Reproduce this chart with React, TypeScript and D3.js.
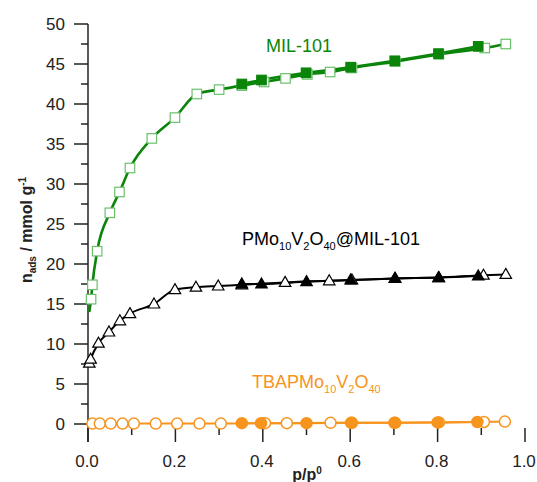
import React from "react";
import * as d3 from "d3";

const W = 537;
const H = 482;

const milAdsX = [0.003, 0.007, 0.010, 0.021, 0.050, 0.072, 0.096, 0.146, 0.199, 0.249, 0.300, 0.352, 0.403, 0.452, 0.502, 0.554, 0.604, 0.703, 0.803, 0.908, 0.956];
const milAdsY = [14.0, 15.6, 17.4, 21.6, 26.4, 29.0, 32.0, 35.7, 38.3, 41.25, 41.8, 42.3, 42.75, 43.2, 43.7, 44.0, 44.5, 45.3, 46.2, 47.0, 47.5];
const milDesX = [0.352, 0.397, 0.499, 0.601, 0.702, 0.802, 0.893];
const milDesY = [42.5, 43.0, 43.9, 44.6, 45.4, 46.3, 47.2];

const pmoAdsX = [0.003, 0.006, 0.024, 0.048, 0.073, 0.096, 0.151, 0.199, 0.247, 0.298, 0.352, 0.451, 0.552, 0.604, 0.703, 0.803, 0.905, 0.956];
const pmoAdsY = [7.6, 8.1, 10.1, 11.5, 12.9, 13.8, 15.0, 16.8, 17.1, 17.25, 17.4, 17.7, 17.9, 18.0, 18.2, 18.3, 18.6, 18.7];
const pmoDesX = [0.352, 0.397, 0.500, 0.601, 0.702, 0.802, 0.893];
const pmoDesY = [17.5, 17.5, 17.8, 18.0, 18.2, 18.3, 18.5];

const tbaAdsX = [0.010, 0.027, 0.052, 0.079, 0.105, 0.155, 0.204, 0.255, 0.304, 0.405, 0.455, 0.555, 0.604, 0.703, 0.803, 0.906, 0.954];
const tbaAdsY = [0.05, 0.05, 0.05, 0.05, 0.05, 0.05, 0.05, 0.05, 0.05, 0.1, 0.1, 0.15, 0.15, 0.15, 0.2, 0.25, 0.3];
const tbaDesX = [0.352, 0.396, 0.500, 0.602, 0.701, 0.800, 0.891];
const tbaDesY = [0.1, 0.1, 0.1, 0.15, 0.15, 0.2, 0.25];

const xTicks = [0, 0.2, 0.4, 0.6, 0.8, 1.0];
const xMinor = [0.1, 0.3, 0.5, 0.7, 0.9];
const yTicks = [0, 5, 10, 15, 20, 25, 30, 35, 40, 45, 50];
const yMinor = [2.5, 7.5, 12.5, 17.5, 22.5, 27.5, 32.5, 37.5, 42.5, 47.5];

const GREEN = "#0a850a";
const GREEN_LIGHT = "#6cc06c";
const ORANGE = "#f7941d";

const x = d3.scaleLinear().domain([0, 1]).range([88, 525]);
const y = d3.scaleLinear().domain([0, 50]).range([424, 24]);

const zip = (xs: number[], ys: number[]) => xs.map((v, i) => [v, ys[i]] as [number, number]);

const line = d3
  .line<[number, number]>()
  .x((d) => x(d[0]))
  .y((d) => y(d[1]))
  .curve(d3.curveMonotoneX);

const FONT = "Arial, 'Liberation Sans', sans-serif";

function Square({ cx, cy, filled }: { cx: number; cy: number; filled: boolean }) {
  const s = 9.5;
  return (
    <rect
      x={cx - s / 2}
      y={cy - s / 2}
      width={s}
      height={s}
      fill={filled ? GREEN : "#fff"}
      stroke={filled ? GREEN : GREEN_LIGHT}
      strokeWidth={1.2}
    />
  );
}

function Tri({ cx, cy, filled }: { cx: number; cy: number; filled: boolean }) {
  const w = 11.5;
  const h = 10;
  const p = `${cx},${cy - h * 0.6} ${cx + w / 2},${cy + h * 0.4} ${cx - w / 2},${cy + h * 0.4}`;
  return <polygon points={p} fill={filled ? "#000" : "#fff"} stroke="#000" strokeWidth={1.2} />;
}

function Circ({ cx, cy, filled }: { cx: number; cy: number; filled: boolean }) {
  return <circle cx={cx} cy={cy} r={5.5} fill={filled ? ORANGE : "#fff"} stroke={ORANGE} strokeWidth={1.5} />;
}

export default function App() {
  const milAds = zip(milAdsX, milAdsY);
  const milDes = zip(milDesX, milDesY);
  const pmoAds = zip(pmoAdsX, pmoAdsY);
  const pmoDes = zip(pmoDesX, pmoDesY);
  const tbaAds = zip(tbaAdsX, tbaAdsY);
  const tbaDes = zip(tbaDesX, tbaDesY);

  return (
    <svg
      width={W}
      height={H}
      style={{ position: "absolute", left: 0, top: 0, background: "#fff" }}
      fontFamily={FONT}
    >
      {/* y axis */}
      <line x1={88} x2={88} y1={y(50)} y2={442} stroke="#222" strokeWidth={1.5} />
      {yTicks.map((t) => (
        <g key={"yt" + t}>
          <line x1={74} x2={88} y1={y(t)} y2={y(t)} stroke="#222" strokeWidth={1.5} />
          <text x={65} y={y(t)} dy="0.36em" textAnchor="end" fontSize={17} fill="#222">
            {t}
          </text>
        </g>
      ))}
      {yMinor.map((t) => (
        <line key={"ym" + t} x1={81} x2={88} y1={y(t)} y2={y(t)} stroke="#222" strokeWidth={1.5} />
      ))}
      {/* x axis ticks */}
      {xTicks.map((t) => (
        <g key={"xt" + t}>
          <line x1={x(t)} x2={x(t)} y1={428} y2={442} stroke="#222" strokeWidth={1.5} />
          <text x={x(t) - 1} y={467} textAnchor="middle" fontSize={17} fill="#222">
            {t.toFixed(1)}
          </text>
        </g>
      ))}
      {xMinor.map((t) => (
        <line key={"xm" + t} x1={x(t)} x2={x(t)} y1={428} y2={435} stroke="#222" strokeWidth={1.5} />
      ))}

      {/* axis titles */}
      <text x={307} y={480} textAnchor="middle" fontSize={16} fontWeight="bold" fill="#222">
        p/p
        <tspan dy={-6} fontSize={10}>
          0
        </tspan>
      </text>
      <text
        transform={`translate(32,${230}) rotate(-90)`}
        textAnchor="middle"
        fontSize={16}
        fontWeight="bold"
        fill="#222"
      >
        n
        <tspan dy={4} fontSize={10}>
          ads
        </tspan>
        <tspan dy={-4}> / mmol g</tspan>
        <tspan dy={-6} fontSize={10}>
          -1
        </tspan>
      </text>

      {/* lines */}
      <path d={line(milAds) || ""} fill="none" stroke={GREEN} strokeWidth={2.6} />
      <path d={line(milDes) || ""} fill="none" stroke={GREEN} strokeWidth={2.6} />
      <path d={line(pmoAds) || ""} fill="none" stroke="#000" strokeWidth={2} />
      <path d={line(pmoDes) || ""} fill="none" stroke="#000" strokeWidth={2} />
      <path d={line(tbaAds) || ""} fill="none" stroke={ORANGE} strokeWidth={2} />
      <path d={line(tbaDes) || ""} fill="none" stroke={ORANGE} strokeWidth={2} />

      {/* markers */}
      {milAds.slice(1).map((d, i) => (
        <Square key={"ma" + i} cx={x(d[0])} cy={y(d[1])} filled={false} />
      ))}
      {milDes.map((d, i) => (
        <Square key={"md" + i} cx={x(d[0])} cy={y(d[1])} filled={true} />
      ))}
      {pmoAds.map((d, i) => (
        <Tri key={"pa" + i} cx={x(d[0])} cy={y(d[1])} filled={false} />
      ))}
      {pmoDes.map((d, i) => (
        <Tri key={"pd" + i} cx={x(d[0])} cy={y(d[1])} filled={true} />
      ))}
      {tbaAds.map((d, i) => (
        <Circ key={"ta" + i} cx={x(d[0])} cy={y(d[1])} filled={false} />
      ))}
      {tbaDes.map((d, i) => (
        <Circ key={"td" + i} cx={x(d[0])} cy={y(d[1])} filled={true} />
      ))}

      {/* labels */}
      <text x={266} y={52} fontSize={18} fill={GREEN}>
        MIL-101
      </text>
      <text x={242} y={245} fontSize={18} fill="#000">
        PMo
        <tspan dy={5} fontSize={11}>10</tspan>
        <tspan dy={-5}>V</tspan>
        <tspan dy={5} fontSize={11}>2</tspan>
        <tspan dy={-5}>O</tspan>
        <tspan dy={5} fontSize={11}>40</tspan>
        <tspan dy={-5}>@MIL-101</tspan>
      </text>
      <text x={252} y={388} fontSize={18} fill={ORANGE}>
        TBAPMo
        <tspan dy={5} fontSize={11}>10</tspan>
        <tspan dy={-5}>V</tspan>
        <tspan dy={5} fontSize={11}>2</tspan>
        <tspan dy={-5}>O</tspan>
        <tspan dy={5} fontSize={11}>40</tspan>
      </text>
    </svg>
  );
}
